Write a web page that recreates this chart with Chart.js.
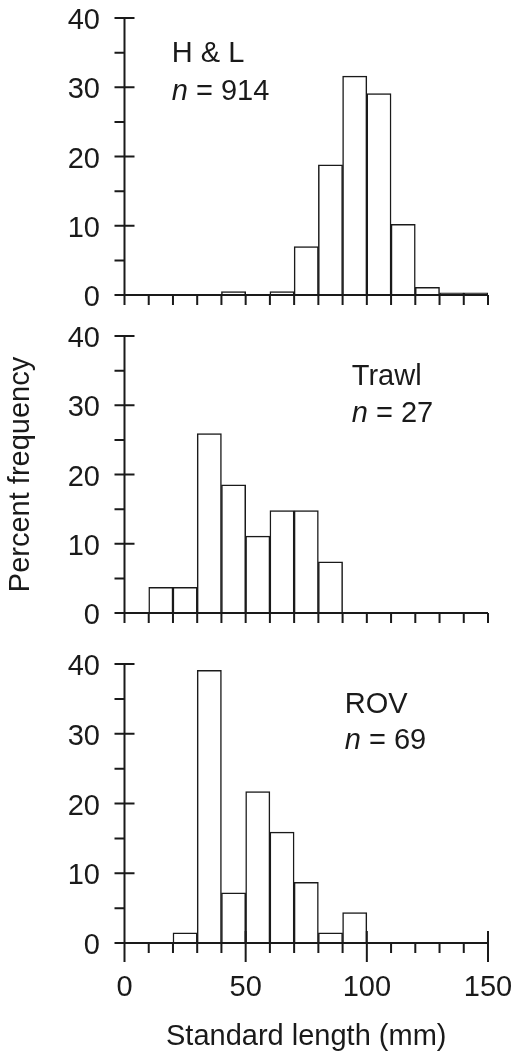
<!DOCTYPE html>
<html lang="en">
<head>
<meta charset="UTF-8">
<title>Standard length by gear</title>
<script src="https://cdn.jsdelivr.net/npm/chart.js"></script>
<style>
  body { margin: 0; background: #fff; }
  #wrap { position: relative; width: 516px; height: 1055px; }
  canvas { position: absolute; left: 0; }
</style>
</head>
<body>
<div id="wrap">
  <canvas id="gHL" width="516" height="320" style="top:0"></canvas>
  <canvas id="gTrawl" width="516" height="320" style="top:320px"></canvas>
  <canvas id="gROV" width="516" height="415" style="top:640px"></canvas>
</div>
<script>
// 10 mm bins, lower edge of each bin
var binStarts = [0, 10, 20, 30, 40, 50, 60, 70, 80, 90, 100, 110, 120, 130, 140];
var binWidth = 10;

// percent frequency per bin
var hlPercent    = [0, 0, 0, 0, 0.5, 0, 0.5, 7.0, 18.8, 31.6, 29.1, 10.2, 1.1, 0.3, 0.3];
var trawlPercent = [0, 3.7, 3.7, 25.9, 18.5, 11.1, 14.8, 14.8, 7.4, 0, 0, 0, 0, 0, 0];
var rovPercent   = [0, 0, 1.45, 39.1, 7.2, 21.7, 15.9, 8.7, 1.45, 4.35, 0, 0, 0, 0, 0];

var gearNames = ['H & L', 'Trawl', 'ROV'];
var sampleSizes = [914, 27, 69];

var yTicks = [0, 5, 10, 15, 20, 25, 30, 35, 40];
var yLabelTicks = [0, 10, 20, 30, 40];
var xTicks = [0, 10, 20, 30, 40, 50, 60, 70, 80, 90, 100, 110, 120, 130, 140, 150];
var xLabelTicks = [0, 50, 100, 150];

var INK = '#1a1a1a';
var FONT = "'Liberation Sans', Arial, sans-serif";
var FS = 29;

// axes with crossing major ticks, plus the gear / n note
var histAxes = {
  id: 'histAxes',
  afterDatasetsDraw: function (chart, args, opts) {
    var ctx = chart.ctx, a = chart.chartArea, x = chart.scales.x, y = chart.scales.y;
    ctx.save();
    ctx.strokeStyle = INK;
    ctx.lineWidth = 2;
    ctx.beginPath();
    ctx.moveTo(a.left, a.top); ctx.lineTo(a.left, a.bottom);
    ctx.moveTo(a.left, a.bottom); ctx.lineTo(a.right, a.bottom);
    yTicks.forEach(function (v) {
      var py = y.getPixelForValue(v);
      var major = yLabelTicks.indexOf(v) >= 0;
      ctx.moveTo(a.left - 10, py);
      ctx.lineTo(a.left + (major ? 10 : 0), py);
    });
    xTicks.forEach(function (v) {
      var px = x.getPixelForValue(v);
      var major = opts.bottomAxis && xLabelTicks.indexOf(v) >= 0;
      ctx.moveTo(px, a.bottom - (major ? 12 : 0));
      ctx.lineTo(px, a.bottom + (major ? 19 : 10));
    });
    ctx.stroke();

    var n = opts.note;
    var nx = x.getPixelForValue(n.x);
    ctx.fillStyle = INK;
    ctx.textBaseline = 'alphabetic';
    ctx.textAlign = 'left';
    ctx.font = FS + 'px ' + FONT;
    ctx.fillText(n.gear, nx, y.getPixelForValue(n.y1));
    var by = y.getPixelForValue(n.y2);
    ctx.font = 'italic ' + FS + 'px ' + FONT;
    ctx.fillText('n', nx, by);
    var w = ctx.measureText('n').width;
    ctx.font = FS + 'px ' + FONT;
    ctx.fillText(' = ' + n.count, nx + w, by);
    ctx.restore();
  }
};

function noPad(s) {
  s.paddingTop = 0; s.paddingBottom = 0; s.paddingLeft = 0; s.paddingRight = 0;
}

function makeChart(id, values, o) {
  var points = binStarts.map(function (s, i) {
    return { x: s + binWidth / 2, y: values[i] };
  });
  return new Chart(document.getElementById(id), {
    type: 'bar',
    data: {
      datasets: [{
        data: points,
        backgroundColor: '#ffffff',
        borderColor: INK,
        borderWidth: 1.5,
        borderSkipped: 'start',
        barPercentage: 1,
        categoryPercentage: 1
      }]
    },
    options: {
      responsive: false,
      animation: false,
      events: [],
      layout: { padding: { top: o.top, right: 28, bottom: 0, left: 0 } },
      plugins: {
        legend: { display: false },
        tooltip: { enabled: false },
        histAxes: { bottomAxis: o.bottomAxis, note: o.note }
      },
      scales: {
        x: {
          type: 'linear',
          min: 0,
          max: 150,
          offset: false,
          grid: { display: false, drawTicks: false },
          border: { display: false },
          ticks: {
            display: o.bottomAxis,
            stepSize: 50,
            autoSkip: false,
            maxRotation: 0,
            padding: 28,
            color: INK,
            font: { family: FONT, size: FS }
          },
          title: {
            display: o.bottomAxis,
            text: 'Standard length (mm)',
            color: INK,
            font: { family: FONT, size: FS },
            padding: { top: 0, bottom: 1 }
          },
          afterFit: function (s) { s.height = o.xHeight; noPad(s); }
        },
        y: {
          min: 0,
          max: 40,
          grid: { display: false, drawTicks: false },
          border: { display: false },
          ticks: {
            stepSize: 10,
            padding: 24.5,
            labelOffset: 3,
            color: INK,
            font: { family: FONT, size: FS }
          },
          title: {
            display: o.yTitle,
            text: 'Percent frequency',
            color: INK,
            font: { family: FONT, size: FS },
            padding: { top: 4, bottom: 0 }
          },
          afterFit: function (s) { s.width = 124.5; noPad(s); }
        }
      }
    },
    plugins: [histAxes]
  });
}

makeChart('gHL', hlPercent, {
  top: 18, xHeight: 25, bottomAxis: false, yTitle: false,
  note: { gear: gearNames[0], count: sampleSizes[0], x: 19.5, y1: 33.6, y2: 28.2 }
});
makeChart('gTrawl', trawlPercent, {
  top: 16, xHeight: 27, bottomAxis: false, yTitle: true,
  note: { gear: gearNames[1], count: sampleSizes[1], x: 93.8, y1: 32.9, y2: 27.6 }
});
makeChart('gROV', rovPercent, {
  top: 24, xHeight: 112, bottomAxis: true, yTitle: false,
  note: { gear: gearNames[2], count: sampleSizes[2], x: 90.9, y1: 33.0, y2: 27.8 }
});
</script>
</body>
</html>
